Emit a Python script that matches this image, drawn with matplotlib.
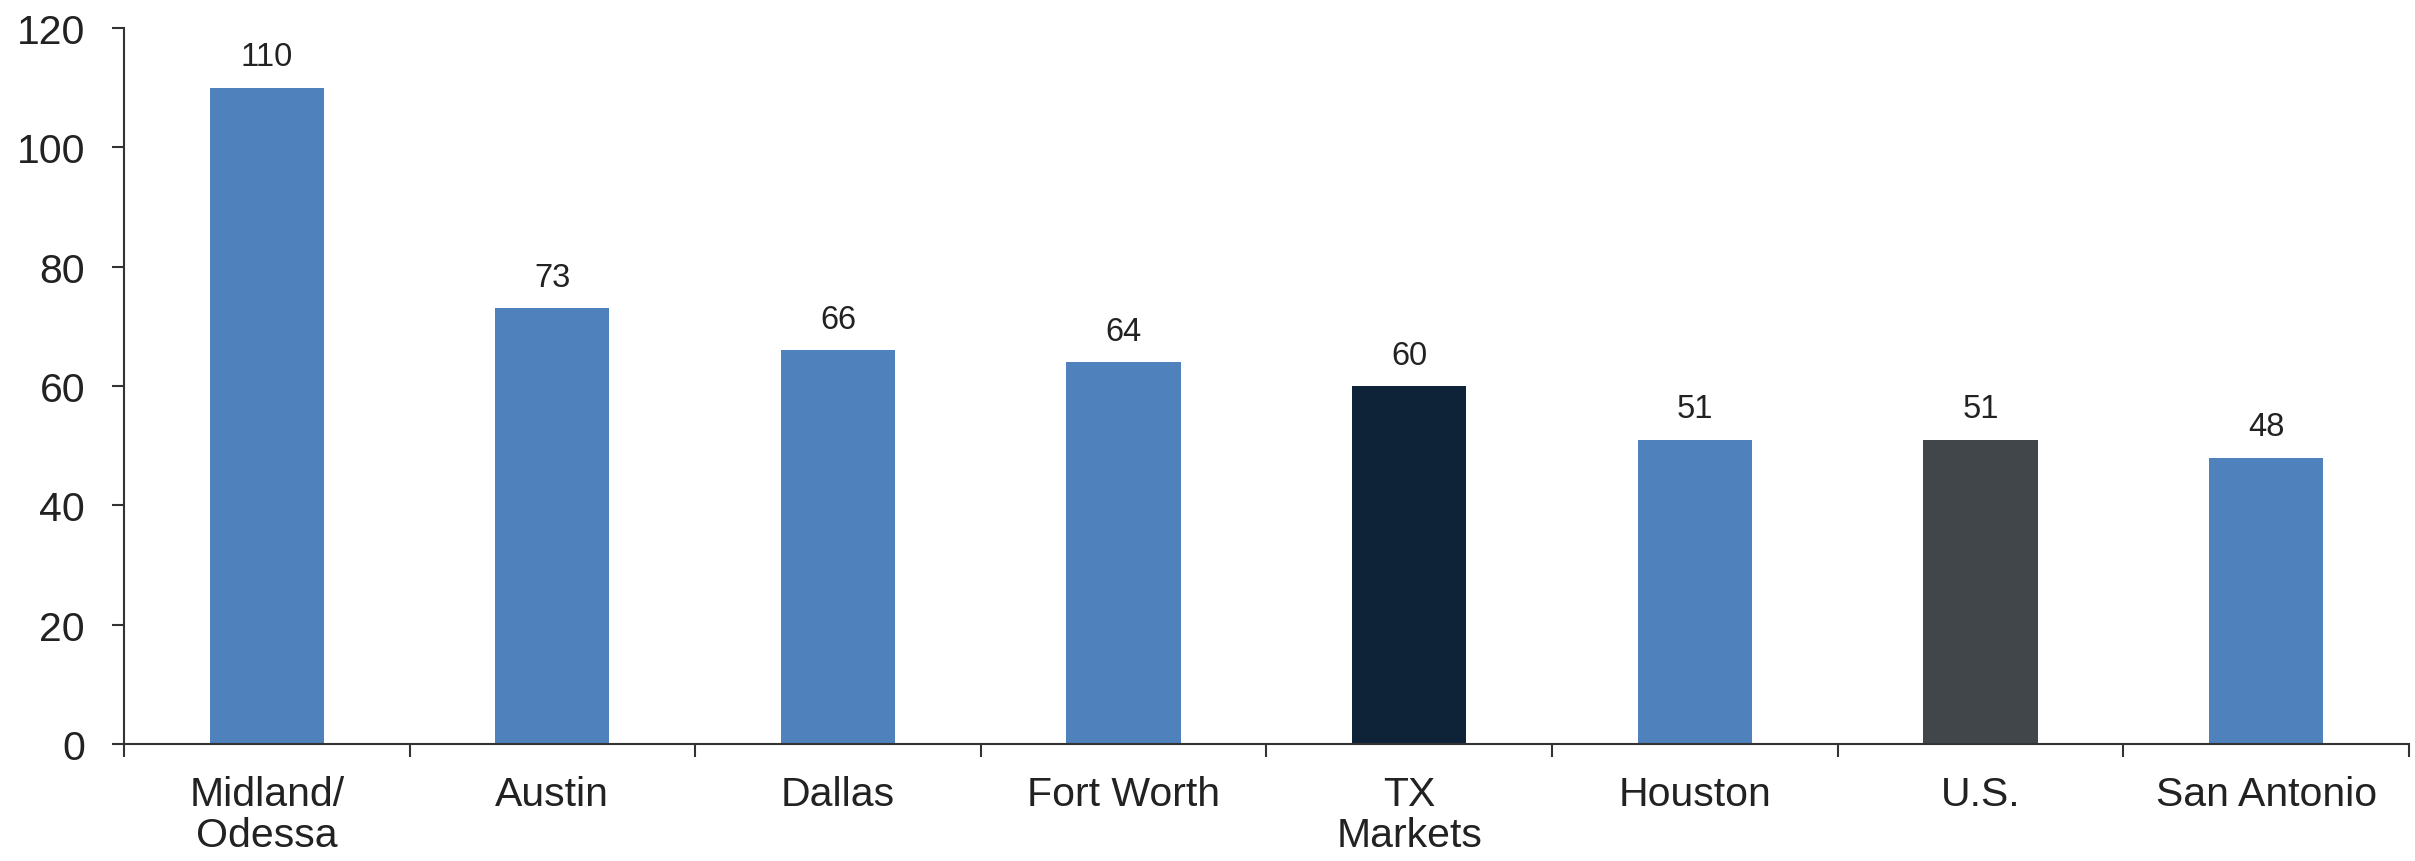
import matplotlib.pyplot as plt
from matplotlib.ticker import FixedLocator

# Chart data
categories = ['Midland/\nOdessa', 'Austin', 'Dallas', 'Fort Worth', 'TX\nMarkets',
              'Houston', 'U.S.', 'San Antonio']
values = [110, 73, 66, 64, 60, 51, 51, 48]
bar_colors = ['#4F81BD', '#4F81BD', '#4F81BD', '#4F81BD', '#0E2238',
              '#4F81BD', '#41464B', '#4F81BD']

plt.rcParams['font.family'] = ['Liberation Sans', 'DejaVu Sans']
text_color = '#222222'

fig = plt.figure(figsize=(24.15, 8.62), dpi=100)
ax = fig.add_axes([0.0513, 0.1357, 0.9462, 0.8307])

x = range(len(categories))
bars = ax.bar(x, values, width=0.4, color=bar_colors, zorder=2)

for xi, v in zip(x, values):
    ax.annotate(f'{v}', (xi, v), xytext=(0, 11), textcoords='offset points',
                ha='center', va='bottom', fontsize=23.5, color=text_color)

ax.set_xlim(-0.5, len(categories) - 0.5)
ax.set_ylim(0, 120)
ax.set_yticks(range(0, 121, 20))

# labels at bar centres, tick marks at category boundaries
ax.set_xticks(list(x))
ax.set_xticklabels(categories, fontsize=29.5, color=text_color, linespacing=1.1)
ax.xaxis.set_minor_locator(FixedLocator([i - 0.5 for i in range(len(categories) + 1)]))
ax.tick_params(axis='x', which='major', length=0, pad=22)
ax.tick_params(axis='x', which='minor', length=9, width=1.5, color='#333333', direction='out')
ax.tick_params(axis='y', length=9, width=1.5, color='#333333', pad=19,
               labelsize=29.5, labelcolor=text_color)

for side in ['top', 'right']:
    ax.spines[side].set_visible(False)
for side in ['left', 'bottom']:
    ax.spines[side].set_color('#333333')
    ax.spines[side].set_linewidth(1.5)

plt.savefig('out.png', dpi=100)
